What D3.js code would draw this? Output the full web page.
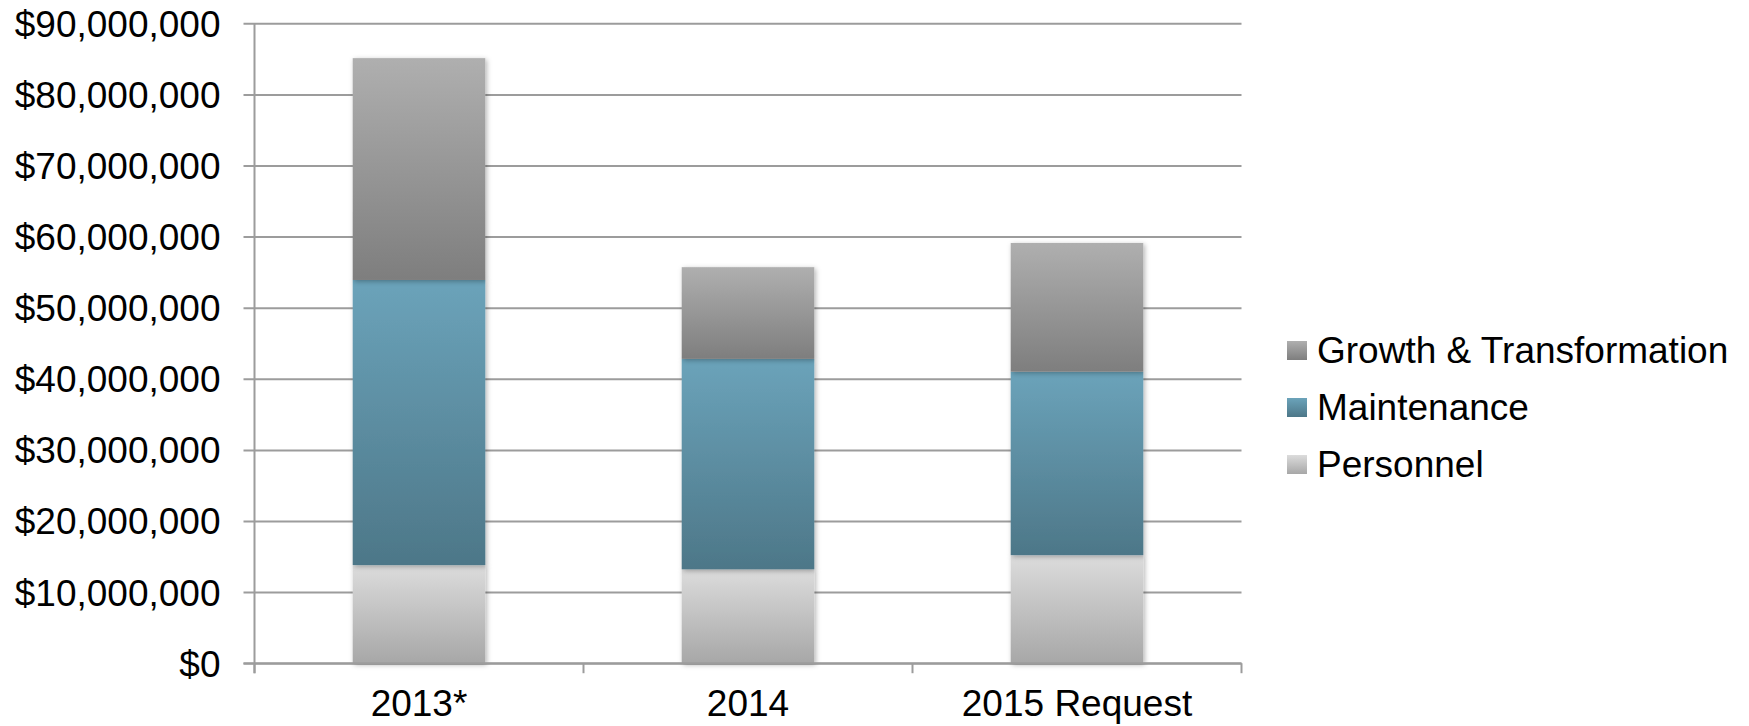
<!DOCTYPE html>
<html>
<head>
<meta charset="utf-8">
<script src="https://cdn.jsdelivr.net/npm/d3@7"></script>
<style>
  html, body { margin: 0; padding: 0; background: #fff; }
  svg { display: block; font-family: "Liberation Sans", Arial, sans-serif; }
</style>
</head>
<body>
<svg id="chart" width="1749" height="726"></svg>
<script>
// Budget by category and year (US dollars)
const categories = ["2013*", "2014", "2015 Request"];
const personnel   = [13800000, 13200000, 15200000];
const maintenance = [40100000, 29600000, 25800000];
const growth      = [31200000, 12900000, 18100000];
const seriesNames = ["Personnel", "Maintenance", "Growth & Transformation"];
const yTicks = [0, 10000000, 20000000, 30000000, 40000000, 50000000, 60000000, 70000000, 80000000, 90000000];

// Gradient stops per series (top colour, bottom colour)
const seriesGradients = {
  "Personnel": ["#dcdcdc", "#a7a7a7"],
  "Maintenance": ["#6ba3ba", "#4d7788"],
  "Growth & Transformation": ["#afafaf", "#7e7e7e"]
};

const rows = categories.map((c, i) => ({
  category: c,
  "Personnel": personnel[i],
  "Maintenance": maintenance[i],
  "Growth & Transformation": growth[i]
}));

const svg = d3.select("#chart");
const plot = { left: 254.5, right: 1241.5, top: 23.3, bottom: 663.2 };
const fontSize = 37;

const x = d3.scaleBand()
  .domain(categories)
  .range([plot.left, plot.right])
  .paddingInner(0.597)
  .paddingOuter(0.2985);

const y = d3.scaleLinear()
  .domain([0, 90000000])
  .range([plot.bottom, plot.top]);

const fmt = d3.format("$,.0f");

// Definitions: gradients and a soft shadow for the bars
const defs = svg.append("defs");
seriesNames.forEach((name, i) => {
  const g = defs.append("linearGradient")
    .attr("id", "grad" + i)
    .attr("x1", 0).attr("y1", 0).attr("x2", 0).attr("y2", 1);
  g.append("stop").attr("offset", "0%").attr("stop-color", seriesGradients[name][0]);
  g.append("stop").attr("offset", "100%").attr("stop-color", seriesGradients[name][1]);
});
const shadow = defs.append("filter").attr("id", "shadow")
  .attr("x", "-20%").attr("y", "-5%").attr("width", "140%").attr("height", "115%");
shadow.append("feDropShadow")
  .attr("dx", 1.5).attr("dy", 1.5).attr("stdDeviation", 2.5)
  .attr("flood-color", "#000").attr("flood-opacity", 0.3);

const gridColor = "#9c9c9c";

// Horizontal gridlines with outward ticks
const yAxis = d3.axisLeft(y)
  .tickValues(yTicks)
  .tickFormat(fmt)
  .tickSize(-(plot.right - plot.left))
  .tickPadding(0);

const gy = svg.append("g")
  .attr("transform", `translate(${plot.left},0)`)
  .call(yAxis);
gy.select(".domain").remove();
gy.selectAll(".tick line")
  .attr("x1", -11)
  .attr("stroke", gridColor)
  .attr("stroke-width", 2);
gy.selectAll(".tick text")
  .attr("x", -34)
  .attr("dy", "0.35em")
  .attr("fill", "#000")
  .style("font-size", fontSize + "px")
  .style("font-family", "'Liberation Sans', Arial, sans-serif");

// Stacked bars
const stack = d3.stack().keys(seriesNames);
const stacked = stack(rows);

const layers = svg.append("g").selectAll("g")
  .data(stacked)
  .join("g")
  .attr("fill", (d, i) => `url(#grad${i})`);

layers.selectAll("rect")
  .data(d => d)
  .join("rect")
  .attr("x", d => x(d.data.category))
  .attr("width", x.bandwidth())
  .attr("y", d => y(d[1]))
  .attr("height", d => y(d[0]) - y(d[1]))
  .attr("filter", "url(#shadow)");

// Vertical axis line
svg.append("line")
  .attr("x1", plot.left).attr("x2", plot.left)
  .attr("y1", plot.top).attr("y2", plot.bottom + 10)
  .attr("stroke", gridColor).attr("stroke-width", 2);

// Category axis with boundary ticks
const bounds = categories.map(c => x(c) - x.step() * x.paddingOuter());
bounds.push(plot.right);
const gx = svg.append("g");
gx.append("line")
  .attr("x1", plot.left - 11).attr("x2", plot.right)
  .attr("y1", plot.bottom).attr("y2", plot.bottom)
  .attr("stroke", gridColor).attr("stroke-width", 2);
gx.selectAll("line.bound")
  .data(bounds)
  .join("line")
  .attr("class", "bound")
  .attr("x1", d => d).attr("x2", d => d)
  .attr("y1", plot.bottom).attr("y2", plot.bottom + 10)
  .attr("stroke", gridColor).attr("stroke-width", 2);
gx.selectAll("text")
  .data(categories)
  .join("text")
  .attr("x", d => x(d) + x.bandwidth() / 2)
  .attr("y", 716)
  .attr("text-anchor", "middle")
  .attr("fill", "#000")
  .style("font-size", fontSize + "px")
  .text(d => d);

// Legend (top series first)
const legendItems = seriesNames.map((name, i) => ({ name, i })).reverse();
const legend = svg.append("g");
const li = legend.selectAll("g")
  .data(legendItems)
  .join("g")
  .attr("transform", (d, k) => `translate(1287, ${341 + k * 57})`);
li.append("rect")
  .attr("width", 20).attr("height", 19)
  .attr("fill", d => `url(#grad${d.i})`);
li.append("text")
  .attr("x", 30)
  .attr("y", 9.5)
  .attr("dy", "0.35em")
  .attr("fill", "#000")
  .style("font-size", fontSize + "px")
  .text(d => d.name);
</script>
</body>
</html>
